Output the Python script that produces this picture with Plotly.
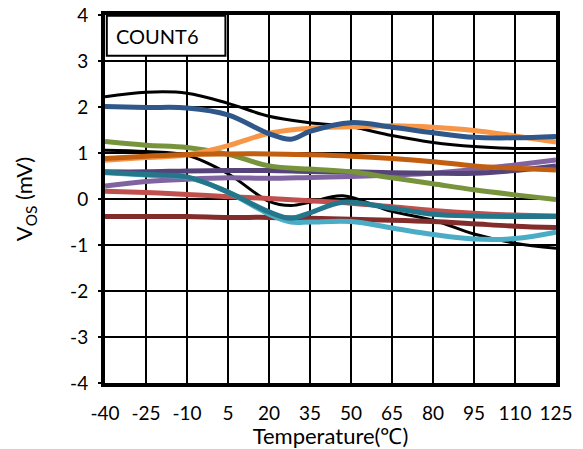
import plotly.graph_objects as go

# Temperature points (°C) shared by most curves
temps = [-40, -25, -10, 5, 20, 35, 50, 65, 80, 95, 110, 125]
# Some curves have an extra reading near the dip around 28 °C
temps_dip = [-40, -25, -10, 5, 20, 28, 35, 50, 65, 80, 95, 110, 125]
temps_bump = [-40, -25, -10, 5, 20, 28, 35, 47, 65, 80, 95, 110, 125]

black_top = [2.22, 2.32, 2.30, 2.08, 1.80, 1.66, 1.57, 1.38, 1.23, 1.14, 1.10, 1.10]
black_low = [1.06, 1.03, 0.95, 0.55, -0.05, -0.14, -0.07, 0.07, -0.27, -0.46, -0.76, -0.96, -1.07]
maroon = [-0.38, -0.38, -0.38, -0.40, -0.40, -0.42, -0.44, -0.46, -0.49, -0.54, -0.59, -0.62]
salmon = [0.17, 0.14, 0.10, 0.05, 0.01, -0.04, -0.09, -0.17, -0.25, -0.31, -0.35, -0.37]
purple_light = [0.28, 0.38, 0.43, 0.46, 0.45, 0.47, 0.49, 0.52, 0.56, 0.64, 0.74, 0.85]
purple_dark = [0.59, 0.59, 0.61, 0.62, 0.62, 0.60, 0.59, 0.57, 0.56, 0.56, 0.62, 0.72]
green = [1.25, 1.17, 1.12, 0.97, 0.72, 0.65, 0.59, 0.46, 0.33, 0.20, 0.09, -0.01]
orange_dark = [0.88, 0.93, 0.97, 0.98, 0.98, 0.96, 0.93, 0.88, 0.81, 0.72, 0.67, 0.63]
orange = [0.84, 0.90, 0.96, 1.16, 1.43, 1.54, 1.57, 1.59, 1.56, 1.49, 1.37, 1.24]
aqua = [0.57, 0.52, 0.47, 0.15, -0.33, -0.50, -0.50, -0.49, -0.63, -0.77, -0.87, -0.86, -0.72]
teal = [0.58, 0.53, 0.48, 0.15, -0.28, -0.42, -0.30, -0.07, -0.20, -0.33, -0.37, -0.38, -0.38]
blue = [2.01, 1.99, 1.98, 1.83, 1.42, 1.30, 1.47, 1.66, 1.56, 1.44, 1.34, 1.33, 1.36]

x_ticks = [-40, -25, -10, 5, 20, 35, 50, 65, 80, 95, 110, 125]
y_ticks = [-4, -3, -2, -1, 0, 1, 2, 3, 4]

series = [
    (temps, black_top, "#000000", 3),
    (temps_bump, black_low, "#000000", 3),
    (temps, maroon, "#832C2C", 5),
    (temps, salmon, "#C0504D", 5),
    (temps, purple_light, "#8064A2", 5),
    (temps, purple_dark, "#55437A", 5),
    (temps, green, "#77933C", 5),
    (temps, orange, "#F79646", 5),
    (temps, orange_dark, "#C25E10", 5),
    (temps_dip, aqua, "#4BACC6", 5),
    (temps_bump, teal, "#24778B", 5),
    (temps_dip, blue, "#2F5789", 5),
]

fig = go.Figure()
for xs, ys, color, width in series:
    fig.add_trace(go.Scatter(
        x=xs, y=ys, mode="lines",
        line=dict(color=color, width=width, shape="spline", smoothing=1.0),
        showlegend=False, hoverinfo="skip",
    ))

font_family = "Lato, 'Open Sans', sans-serif"

fig.update_layout(
    width=583, height=449,
    margin=dict(l=105, r=27, t=15, b=66),
    paper_bgcolor="white", plot_bgcolor="white",
    font=dict(family=font_family, size=19, color="black"),
    xaxis=dict(
        range=[-40, 125], tickvals=x_ticks, ticktext=[str(v) for v in x_ticks],
        showgrid=True, gridcolor="black", gridwidth=2,
        showline=True, linecolor="black", linewidth=4, mirror=True,
        zeroline=False, ticks="", ticklen=0, automargin=False,
        ticklabelstandoff=10,
        title=dict(text="Temperature(℃)", font=dict(size=22), standoff=8),
        tickfont=dict(size=19),
    ),
    yaxis=dict(
        range=[-4, 4], tickvals=y_ticks, ticktext=[str(v) for v in y_ticks],
        showgrid=True, gridcolor="black", gridwidth=2,
        showline=True, linecolor="black", linewidth=4, mirror=True,
        zeroline=False, ticks="outside", ticklen=3, tickwidth=2, tickcolor="black",
        automargin=False, ticklabelstandoff=6,
        title=dict(text="V<sub>OS</sub> (mV)", font=dict(size=22), standoff=32),
        tickfont=dict(size=19),
    ),
)

# Label box in the upper-left corner
fig.add_shape(
    type="rect", xref="paper", yref="paper",
    x0=0.004, x1=0.267, y0=0.889, y1=0.998,
    line=dict(color="black", width=2), fillcolor="white", layer="above",
)
fig.add_annotation(
    text="COUNT6", xref="paper", yref="paper",
    x=0.02, y=0.944, xanchor="left", yanchor="middle",
    showarrow=False, font=dict(size=20, color="black", family=font_family),
)

fig.write_html("out.html")
